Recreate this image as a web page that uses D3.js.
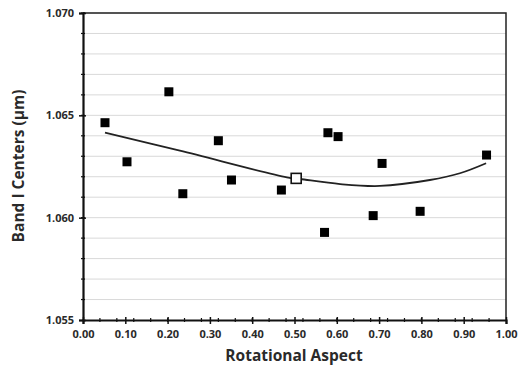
<!DOCTYPE html>
<html>
<head>
<meta charset="utf-8">
<script src="https://cdn.jsdelivr.net/npm/d3@7"></script>
<style>
  body { margin: 0; background: #fff; }
  text { font-family: "Open Sans", "Liberation Sans", sans-serif; font-weight: bold; fill: #2a2a2a; }
</style>
</head>
<body>
<svg width="518" height="368"></svg>
<script>
// measured values (filled squares)
const aspect = [0.052, 0.104, 0.203, 0.236, 0.320, 0.351, 0.469, 0.571, 0.579, 0.603, 0.686, 0.707, 0.797, 0.954];
const center = [1.06464, 1.06273, 1.06615, 1.06117, 1.06376, 1.06184, 1.06135, 1.05928, 1.06415, 1.06396, 1.06010, 1.06265, 1.06031, 1.06306];
// open square
const openPt = [0.504, 1.06192];
// trend curve
const trendX = [0.052, 0.229, 0.482, 0.513, 0.608, 0.702, 0.820, 0.891, 0.953];
const trendY = [1.06415, 1.06327, 1.06197, 1.06189, 1.06164, 1.06155, 1.06184, 1.06217, 1.06266];

const xTicks = [0, 0.1, 0.2, 0.3, 0.4, 0.5, 0.6, 0.7, 0.8, 0.9, 1.0];
const yTicks = [1.055, 1.060, 1.065, 1.070];

const margin = {top: 13, right: 12, bottom: 48, left: 83},
      width = 518 - margin.left - margin.right,
      height = 368 - margin.top - margin.bottom;

const svg = d3.select('svg');
const g = svg.append('g').attr('transform', `translate(${margin.left},${margin.top})`);

const x = d3.scaleLinear().domain([0, 1]).range([0, width]);
const y = d3.scaleLinear().domain([1.055, 1.070]).range([height, 0]);

// gridlines every 0.001
const grid = d3.range(1.056, 1.0700001, 0.001);
g.append('g').selectAll('line').data(grid).join('line')
  .attr('x1', 0).attr('x2', width)
  .attr('y1', d => y(d)).attr('y2', d => y(d))
  .attr('stroke', '#d9d9d9').attr('stroke-width', 1);

// frame top/right
g.append('path')
  .attr('d', `M0,0H${width}V${height}`)
  .attr('fill', 'none').attr('stroke', '#222').attr('stroke-width', 1.5);

// x axis
const xAxis = g.append('g').attr('transform', `translate(0,${height})`)
  .call(d3.axisBottom(x).tickValues(xTicks).tickFormat(d3.format('.2f')).tickSize(4).tickPadding(6));
xAxis.selectAll('.tick line').attr('y1', -3).attr('stroke', '#111').attr('stroke-width', 1.5);
xAxis.select('.domain').attr('stroke', '#111').attr('stroke-width', 2.2);
xAxis.selectAll('text').style('font-size', '11px').attr('fill', '#2a2a2a');
xAxis.append('g').selectAll('line').data(d3.range(0.04, 1, 0.04)).join('line')
  .attr('x1', d => x(d)).attr('x2', d => x(d)).attr('y1', -2).attr('y2', 2)
  .attr('stroke', '#111').attr('stroke-width', 1.2);

// y axis
const yAxis = g.append('g')
  .call(d3.axisLeft(y).tickValues(yTicks).tickFormat(d3.format('.3f')).tickSize(4).tickPadding(5));
yAxis.selectAll('.tick line').attr('x1', 3).attr('stroke', '#111').attr('stroke-width', 1.5);
yAxis.select('.domain').attr('stroke', '#111').attr('stroke-width', 2.2);
yAxis.selectAll('text').style('font-size', '11px').attr('fill', '#2a2a2a');
yAxis.append('g').selectAll('line').data(grid).join('line')
  .attr('y1', d => y(d)).attr('y2', d => y(d)).attr('x1', -2).attr('x2', 2)
  .attr('stroke', '#111').attr('stroke-width', 1.2);

// trend curve
const pts = trendX.map((d, i) => [d, trendY[i]]);
g.append('path')
  .datum(pts)
  .attr('d', d3.line().x(d => x(d[0])).y(d => y(d[1])).curve(d3.curveCatmullRom))
  .attr('fill', 'none').attr('stroke', '#222').attr('stroke-width', 1.8);

// filled squares
const s = 9;
g.append('g').selectAll('rect').data(aspect).join('rect')
  .attr('x', (d) => x(d) - s / 2)
  .attr('y', (d, i) => y(center[i]) - s / 2)
  .attr('width', s).attr('height', s)
  .attr('fill', '#000');

// open square
g.append('rect')
  .attr('x', x(openPt[0]) - 5).attr('y', y(openPt[1]) - 5)
  .attr('width', 10).attr('height', 10)
  .attr('fill', '#fff').attr('stroke', '#111').attr('stroke-width', 1.6);

// axis titles
svg.append('text')
  .attr('x', 294).attr('y', 361)
  .attr('text-anchor', 'middle').style('font-size', '15.5px')
  .text('Rotational Aspect');
svg.append('text')
  .attr('transform', `translate(24,166) rotate(-90)`)
  .attr('text-anchor', 'middle').style('font-size', '15.5px')
  .text('Band I Centers (µm)');
</script>
</body>
</html>
